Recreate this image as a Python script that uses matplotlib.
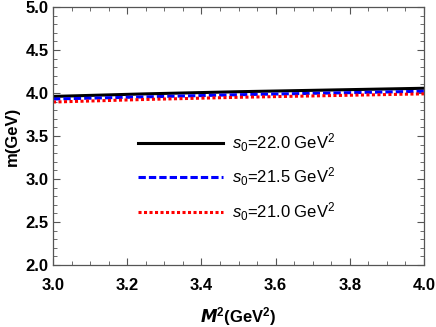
import matplotlib
matplotlib.use("Agg")
import matplotlib.pyplot as plt
from matplotlib.ticker import MultipleLocator

plt.rcParams['font.family'] = ['Liberation Sans', 'DejaVu Sans']
plt.rcParams['mathtext.fontset'] = 'custom'
plt.rcParams['mathtext.rm'] = 'Liberation Sans'
plt.rcParams['mathtext.it'] = 'Liberation Sans:italic'
plt.rcParams['mathtext.bf'] = 'Liberation Sans:bold'

M2 = [3.0, 3.25, 3.5, 3.75, 4.0]
m_s22 = [3.96, 3.99, 4.015, 4.035, 4.055]
m_s215 = [3.93, 3.955, 3.98, 4.0, 4.02]
m_s21 = [3.895, 3.925, 3.95, 3.97, 3.99]
labels = [r'$s_0$=22.0 GeV$^2$', r'$s_0$=21.5 GeV$^2$', r'$s_0$=21.0 GeV$^2$']

fig = plt.figure(figsize=(4.36, 3.27), dpi=100)
ax = fig.add_axes([53/436, 62/327, 371/436, 258/327])

ax.plot(M2, m_s22, color='black', lw=2.2, label=labels[0])
ax.plot(M2, m_s215, color='#0000ff', lw=2.2, linestyle=(0, (2.4, 1.0)), label=labels[1])
ax.plot(M2, m_s21, color='#ff0000', lw=2.2, linestyle=(0, (1.0, 0.8)), label=labels[2])

ax.set_xlim(3.0, 4.0)
ax.set_ylim(2.0, 5.0)
ax.xaxis.set_major_locator(MultipleLocator(0.2))
ax.xaxis.set_minor_locator(MultipleLocator(0.05))
ax.yaxis.set_major_locator(MultipleLocator(0.5))
ax.yaxis.set_minor_locator(MultipleLocator(0.1))
ax.tick_params(which='both', direction='in', top=True, right=True, color='#555555')
ax.tick_params(which='major', length=5, width=0.8, labelsize=12)
ax.tick_params(which='minor', length=3, width=0.6)
ax.tick_params(axis='x', which='major', pad=9)
ax.tick_params(axis='y', which='major', pad=3)
for lab in ax.get_xticklabels() + ax.get_yticklabels():
    lab.set_fontweight('bold')
for s in ax.spines.values():
    s.set_color('#555555')
    s.set_linewidth(0.9)

ax.set_xlabel(r'$\mathbfit{M}^{\mathbf{2}}$(GeV$^{\mathbf{2}}$)', fontsize=12, fontweight='bold', labelpad=9)
ax.set_ylabel('m(GeV)', fontsize=12, fontweight='bold', labelpad=4)

leg = ax.legend(loc='center left', bbox_to_anchor=(0.229, 0.341), frameon=False,
                fontsize=12, handlelength=5.1, handletextpad=0.55, labelspacing=0.72,
                borderpad=0, borderaxespad=0)

fig.savefig('out.png', dpi=100)
